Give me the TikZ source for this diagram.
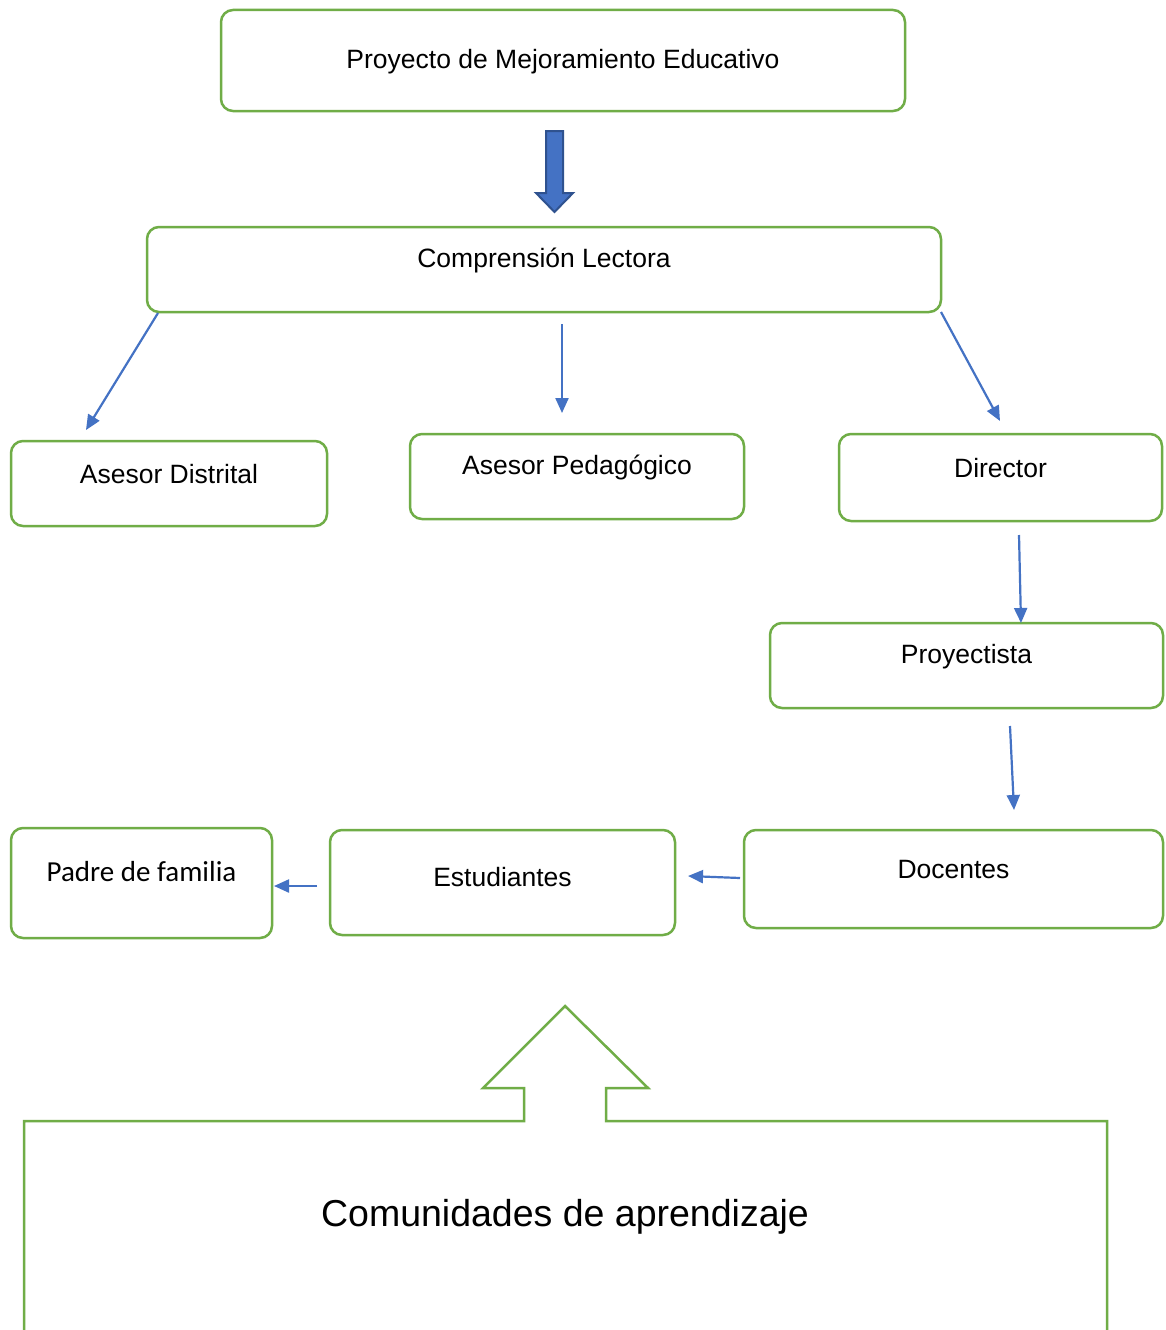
\documentclass[tikz,border=0pt]{standalone}
\usepackage{fontspec}
\setmainfont{Liberation Sans}
\newfontfamily\calfont{Carlito}
\usetikzlibrary{arrows.meta}
\definecolor{boxgreen}{HTML}{70AD47}
\definecolor{arrblue}{HTML}{4472C4}
\definecolor{arrdark}{HTML}{2F528F}
\tikzset{
  box/.style={draw=boxgreen, line width=2.5pt, rounded corners=12pt, fill=white, inner sep=0pt},
  txt/.style={font=\fontsize{26.5}{30}\selectfont, inner sep=0pt, anchor=center},
  conn/.style={draw=arrblue, line width=2.2pt, -{Triangle[length=15pt,width=13pt]}},
}
\begin{document}
\begin{tikzpicture}[x=1pt,y=-1pt]
\clip (0,0) rectangle (1165,1330);
\fill[white] (0,0) rectangle (1165,1330);

% boxes
\node[box, minimum width=684pt, minimum height=101pt] (proy) at (563,60.5) {};
\node[txt] (proyt) at ([yshift=-1pt]proy.center) {Proyecto de Mejoramiento Educativo};

\node[box, minimum width=794pt, minimum height=85pt] (comp) at (544,269.5) {};
\node[txt] (compt) at ([yshift=9pt]comp.center) {Comprensión Lectora};

\node[box, minimum width=316pt, minimum height=85pt] (ad) at (169,483.5) {};
\node[txt] (adt) at ([yshift=9pt]ad.center) {Asesor Distrital};

\node[box, minimum width=334pt, minimum height=85pt] (ap) at (577,476.5) {};
\node[txt] (apt) at ([yshift=9pt]ap.center) {Asesor Pedagógico};

\node[box, minimum width=323pt, minimum height=87pt] (dir) at (1000.5,477.5) {};
\node[txt] (dirt) at ([yshift=9pt]dir.center) {Director};

\node[box, minimum width=393pt, minimum height=85pt] (pro) at (966.5,665.5) {};
\node[txt] (prot) at ([yshift=9pt]pro.center) {Proyectista};

\node[box, minimum width=261pt, minimum height=110pt] (pad) at (141.5,883) {};
\node[txt, font=\calfont\fontsize{29}{33}\selectfont] (padt) at ([yshift=11pt]pad.center) {Padre de familia};

\node[box, minimum width=345pt, minimum height=105pt] (est) at (502.5,882.5) {};
\node[txt] (estt) at ([yshift=5pt]est.center) {Estudiantes};

\node[box, minimum width=419pt, minimum height=98pt] (doc) at (953.5,879) {};
\node[txt] (doct) at ([yshift=9pt]doc.center) {Docentes};

% block arrow
\filldraw[fill=arrblue, draw=arrdark, line width=2pt, line join=miter]
  (546,131) -- (563,131) -- (563,193) -- (573,193) -- (554.5,212) -- (536,193) -- (546,193) -- cycle;

% thin arrows
\coordinate (a1s) at (158,313); \coordinate (a1e) at (86,430);
\coordinate (a2s) at (562,324); \coordinate (a2e) at (562,413);
\coordinate (a3s) at (941,312); \coordinate (a3e) at (1000,421);
\coordinate (a4s) at (1019,535); \coordinate (a4e) at (1021,623);
\coordinate (a5s) at (1010,726); \coordinate (a5e) at (1014,810);
\coordinate (a6s) at (740,878); \coordinate (a6e) at (688,876);
\coordinate (a7s) at (317,886); \coordinate (a7e) at (274,886);
\draw[conn] (a1s) -- (a1e);
\draw[conn] (a2s) -- (a2e);
\draw[conn] (a3s) -- (a3e);
\draw[conn] (a4s) -- (a4e);
\draw[conn] (a5s) -- (a5e);
\draw[conn] (a6s) -- (a6e);
\draw[conn] (a7s) -- (a7e);

% callout
\draw[draw=boxgreen, line width=2.5pt, line join=miter]
  (24,1340) -- (24,1121) -- (524,1121) -- (524,1088) -- (483,1088) -- (565,1006)
  -- (648,1088) -- (606,1088) -- (606,1121) -- (1107,1121) -- (1107,1340);
\node[txt, font=\fontsize{37.5}{42}\selectfont] (com) at (565,1217) {Comunidades de aprendizaje};
\end{tikzpicture}
\end{document}
